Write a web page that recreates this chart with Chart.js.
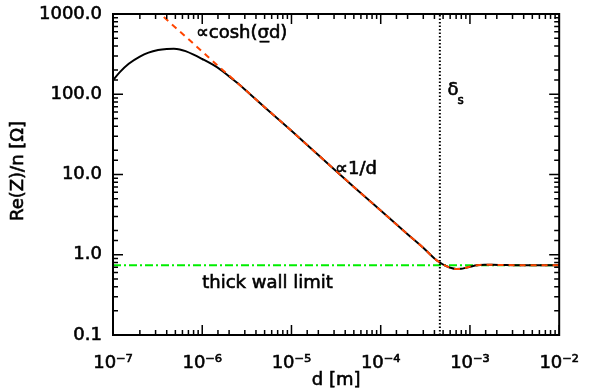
<!DOCTYPE html>
<html>
<head>
<meta charset="utf-8">
<script src="https://cdn.jsdelivr.net/npm/chart.js@4/dist/chart.umd.min.js"></script>
<style>
  body { margin: 0; background: #fff; }
  canvas { display: block; }
</style>
</head>
<body>
<canvas id="plotarea" width="589" height="391"></canvas>
<script>
// exact curve (black), before it joins the approximation
const dExactHead = [1e-7, 1.2e-7, 1.5e-7, 2e-7, 2.5e-7, 3.2e-7, 4e-7, 4.8e-7, 5.6e-7, 6.5e-7, 8e-7, 1e-6, 1.3e-6, 1.6e-6, 2e-6];
const zExactHead = [150, 190, 240, 295, 330, 355, 366, 368, 362, 345, 312, 275, 235, 203, 167];

// approximation (red dashed), steep part that leaves the top of the plot
const dApproxHead = [3e-7, 5e-7, 8e-7, 1.2e-6, 1.6e-6, 2e-6];
const zApproxHead = [1130, 680, 425, 283, 212, 171];

// common part of both curves: 1/d slope, then dip to the thick wall limit
const dTail = [2.5e-6, 3e-6, 5e-6, 1e-5, 2e-5, 5e-5, 1e-4, 2e-4, 3e-4, 4e-4, 4.6e-4, 5.3e-4, 6e-4, 7e-4, 8e-4, 9e-4, 1.03e-3, 1.2e-3, 1.45e-3, 1.8e-3, 2.5e-3, 4e-3, 6e-3, 1e-2];
const zTail = [137, 115, 69, 35, 17.5, 7.0, 3.55, 1.8, 1.22, 0.9, 0.8, 0.73, 0.69, 0.665, 0.668, 0.69, 0.715, 0.74, 0.752, 0.75, 0.744, 0.74, 0.74, 0.74];

const thickWall = 0.74;
const skinDepth = 4.6e-4;

const xRange = [1e-7, 1e-2];
const yRange = [0.1, 1000];
const xTickValues = [1e-7, 1e-6, 1e-5, 1e-4, 1e-3, 1e-2];
const xTickLabels = ['10\u207B\u2077', '10\u207B\u2076', '10\u207B\u2075', '10\u207B\u2074', '10\u207B\u00B3', '10\u207B\u00B2'];
const yTickValues = [0.1, 1, 10, 100, 1000];
const yTickLabels = ['0.1', '1.0', '10.0', '100.0', '1000.0'];

const FONT = 'DejaVu Sans';
const STROKE = 0.6; // thickens the glyphs a little, like the IDL font

function toPoints(xs, ys) {
  return xs.map((x, i) => ({ x: x, y: ys[i] }));
}

function isDecade(v) {
  const l = Math.log10(v);
  return Math.abs(l - Math.round(l)) < 1e-6;
}

function labelFor(v, values, labels) {
  for (let i = 0; i < values.length; i++) {
    if (Math.abs(Math.log10(v) - Math.log10(values[i])) < 1e-6) return labels[i];
  }
  return '';
}

function heavyText(ctx, s, x, y) {
  ctx.strokeText(s, x, y);
  ctx.fillText(s, x, y);
}

// IDL style frame with inward ticks on all four sides, plus the text labels
const framePlugin = {
  id: 'frame',
  afterDraw(chart) {
    const ctx = chart.ctx;
    const a = chart.chartArea;
    const xs = chart.scales.x, ys = chart.scales.y;
    ctx.save();
    ctx.strokeStyle = '#000';
    ctx.lineWidth = 1.5;
    ctx.beginPath();
    xs.ticks.forEach(t => {
      const px = xs.getPixelForValue(t.value);
      const len = isDecade(t.value) ? 10 : 5;
      ctx.moveTo(px, a.bottom); ctx.lineTo(px, a.bottom - len);
      ctx.moveTo(px, a.top); ctx.lineTo(px, a.top + len);
    });
    ys.ticks.forEach(t => {
      const py = ys.getPixelForValue(t.value);
      const len = isDecade(t.value) ? 10 : 5;
      ctx.moveTo(a.left, py); ctx.lineTo(a.left + len, py);
      ctx.moveTo(a.right, py); ctx.lineTo(a.right - len, py);
    });
    ctx.stroke();
    ctx.lineWidth = 2;
    ctx.strokeRect(a.left, a.top, a.right - a.left, a.bottom - a.top);

    ctx.fillStyle = '#000';
    ctx.lineWidth = STROKE;
    ctx.textBaseline = 'alphabetic';
    ctx.textAlign = 'left';
    ctx.font = '18px "' + FONT + '"';
    const at = (d, z) => [xs.getPixelForValue(d), ys.getPixelForValue(z)];
    let p = at(8.5e-7, 502);
    heavyText(ctx, '\u221Dcosh(\u03C3\u0332d)', p[0], p[1]);
    p = at(3.08e-5, 10.1);
    heavyText(ctx, '\u221D1/d', p[0], p[1]);
    p = at(1e-6, 0.385);
    heavyText(ctx, 'thick wall limit', p[0], p[1]);
    p = at(5.6e-4, 98);
    heavyText(ctx, '\u03B4', p[0], p[1]);
    ctx.font = '12px "' + FONT + '"';
    heavyText(ctx, 's', p[0] + 10, p[1] + 9);

    // axis titles
    ctx.font = '18px "' + FONT + '"';
    ctx.textAlign = 'center';
    ctx.textBaseline = 'middle';
    heavyText(ctx, 'd [m]', (a.left + a.right) / 2, 380);
    ctx.translate(18, 171);
    ctx.rotate(-Math.PI / 2);
    heavyText(ctx, 'Re(Z)/n [\u03A9]', 0, 0);
    ctx.restore();
  }
};

const tickFont = { family: FONT, size: 18 };

const config = {
  type: 'scatter',
  data: {
    datasets: [
      {
        label: 'approx',
        data: toPoints(dApproxHead.concat(dTail), zApproxHead.concat(zTail)),
        showLine: true,
        borderColor: '#ff4500',
        borderWidth: 2,
        borderDash: [6, 5],
        pointRadius: 0,
        cubicInterpolationMode: 'monotone'
      },
      {
        label: 'exact',
        data: toPoints(dExactHead.concat(dTail), zExactHead.concat(zTail)),
        showLine: true,
        borderColor: '#000',
        borderWidth: 2,
        pointRadius: 0,
        cubicInterpolationMode: 'monotone'
      },
      {
        label: 'skin depth',
        data: toPoints([skinDepth, skinDepth], yRange),
        showLine: true,
        borderColor: '#000',
        borderWidth: 2,
        borderDash: [1.5, 2],
        pointRadius: 0
      },
      {
        label: 'thick wall',
        data: toPoints(xRange, [thickWall, thickWall]),
        showLine: true,
        borderColor: '#00ee00',
        borderWidth: 2,
        borderDash: [8, 3, 2, 3],
        pointRadius: 0
      }
    ]
  },
  options: {
    responsive: false,
    animation: false,
    layout: { padding: { left: 0, top: 14, right: 24, bottom: 0 } },
    plugins: {
      legend: { display: false },
      tooltip: { enabled: false }
    },
    scales: {
      x: {
        type: 'logarithmic',
        min: xRange[0],
        max: xRange[1],
        grid: { display: false },
        border: { display: false },
        ticks: {
          autoSkip: false,
          maxRotation: 0,
          padding: 10,
          color: '#000',
          textStrokeColor: '#000',
          textStrokeWidth: STROKE,
          font: tickFont,
          callback: v => labelFor(v, xTickValues, xTickLabels)
        },
        afterFit: s => { s.height = 56; }
      },
      y: {
        type: 'logarithmic',
        min: yRange[0],
        max: yRange[1],
        grid: { display: false },
        border: { display: false },
        ticks: {
          autoSkip: false,
          padding: 3,
          color: '#000',
          textStrokeColor: '#000',
          textStrokeWidth: STROKE,
          font: tickFont,
          callback: v => labelFor(v, yTickValues, yTickLabels)
        },
        afterFit: s => { s.width = 113; }
      }
    }
  },
  plugins: [framePlugin]
};

const myChart = new Chart(document.getElementById('plotarea'), config);
</script>
</body>
</html>
